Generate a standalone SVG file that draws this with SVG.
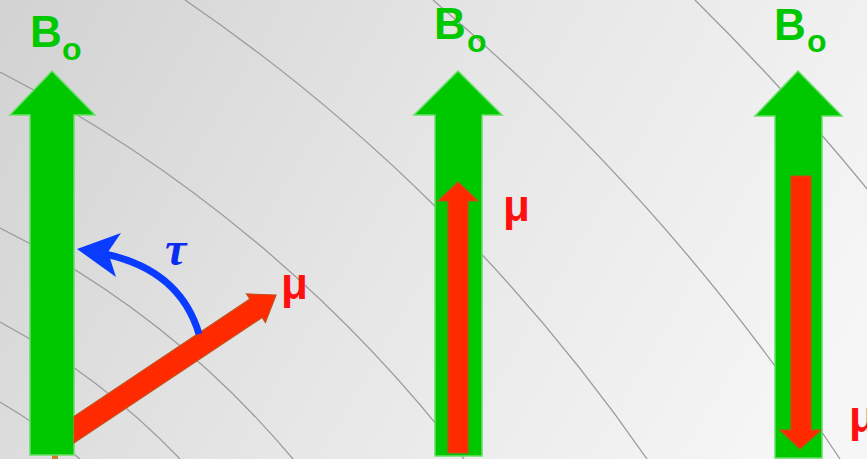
<svg xmlns="http://www.w3.org/2000/svg" width="867" height="459" viewBox="0 0 867 459">
  <defs>
    <linearGradient id="bg" gradientUnits="userSpaceOnUse" x1="0" y1="0" x2="780" y2="459">
      <stop offset="0" stop-color="#d2d2d2"/>
      <stop offset="0.5" stop-color="#e6e6e6"/>
      <stop offset="1" stop-color="#f6f6f6"/>
    </linearGradient>
  </defs>
  <style>
    .arc { fill: none; stroke: #9c9c9c; stroke-width: 1.3; }
    .green { fill: #00c800; stroke: #66e066; stroke-width: 1.5; }
    .red { fill: #ff2a00; stroke: #c4501a; stroke-width: 1.2; }
    .lbl { font-family: "Liberation Sans", Arial, sans-serif; font-weight: bold; }
    .b { fill: #00c800; font-size: 44px; }
    .o { fill: #00c800; font-size: 32px; }
    .mu { fill: #ff1010; font-size: 44px; }
    .tau { fill: #0a2cf0; font-family: "Liberation Serif", "Times New Roman", serif; font-weight: bold; font-style: italic; font-size: 48px; }
  </style>
  <rect id="background" x="0" y="0" width="867" height="459" fill="url(#bg)"/>
  <g id="field-lines">
    <path class="arc" d="M185,0 A1790,1790 0 0,1 647,459"/>
    <path class="arc" d="M433,0 A2174,2174 0 0,1 840,459"/>
    <path class="arc" d="M695,0 A2400,2400 0 0,1 900,230"/>
    <path class="arc" d="M0,72 A1386,1386 0 0,1 464,459"/>
    <path class="arc" d="M0,228 A916,916 0 0,1 293,459"/>
    <path class="arc" d="M0,322 A721,721 0 0,1 180,459"/>
    <path class="arc" d="M0,402 A554,554 0 0,1 80,459"/>
  </g>
  <g id="left-B0">
    <rect x="52" y="455" width="6" height="4" fill="#c8802e"/>
    <polygon class="green" stroke-width="1" points="52,71 95,115 74,115 74,455 30,455 30,115 10,115"/>
    <text class="lbl b" x="30" y="47">B</text>
    <text class="lbl o" x="62" y="60">o</text>
  </g>
  <g id="middle-B0">
    <polygon class="green" points="458,71 502,115 482,115 482,456 435,456 435,115 414,115"/>
    <text class="lbl b" x="434" y="39">B</text>
    <text class="lbl o" x="467" y="52">o</text>
  </g>
  <g id="right-B0">
    <polygon class="green" points="798,71 842,116 822,116 822,458 775,458 775,116 755,116"/>
    <text class="lbl b" x="774" y="40">B</text>
    <text class="lbl o" x="807" y="52">o</text>
  </g>
  <g id="connectors">
    <g id="left-mu">
      <polygon class="red" stroke="none" points="74,416.4 249.9,299.1 246.6,294 276,295 265.4,322.4 262.1,317.5 74,443"/>
    </g>
    <g id="torque">
      <path d="M199,334 Q180,270 105,254" fill="none" stroke="#0a3cff" stroke-width="7"/>
      <polygon fill="#0a3cff" points="77,249 121,233 108,252 116,277"/>
    </g>
    <g id="middle-mu">
      <polygon class="red" points="458,182 478,201 468,201 468,453 448,453 448,201 438,201"/>
    </g>
    <g id="right-mu">
      <polygon class="red" points="791,176 811,176 811,430 821,430 800,449 780,430 791,430"/>
    </g>
  </g>
  <text class="lbl mu" x="281" y="299">μ</text>
  <text class="tau" x="165" y="265">τ</text>
  <text class="lbl mu" x="503" y="221">μ</text>
  <text class="lbl mu" x="849" y="432">μ</text>
</svg>
